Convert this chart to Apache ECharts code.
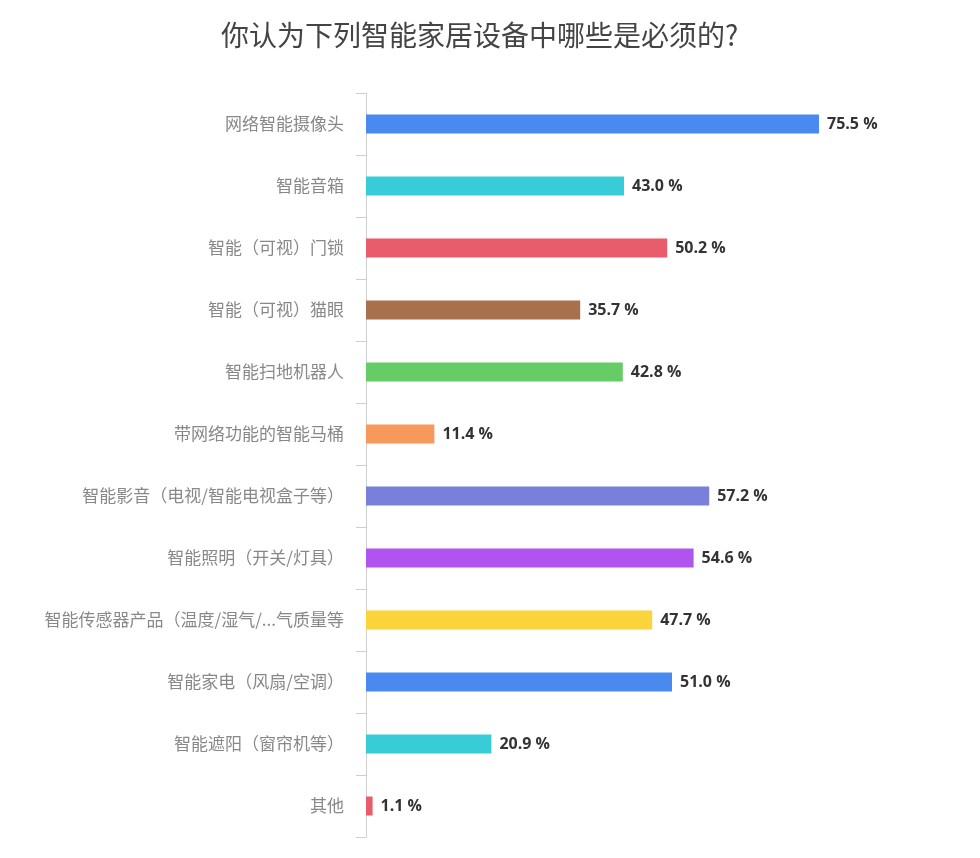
<!DOCTYPE html>
<html>
<head>
<meta charset="utf-8">
<title>智能家居设备</title>
<script src="https://cdn.jsdelivr.net/npm/echarts@6/dist/echarts.min.js"></script>
<style>
  html, body { margin: 0; padding: 0; background: #fff; }
  #main { width: 980px; height: 858px; }
</style>
</head>
<body>
<div id="main"></div>
<script>
// 数据
var categories = ['网络智能摄像头', '智能音箱', '智能（可视）门锁', '智能（可视）猫眼', '智能扫地机器人',
  '带网络功能的智能马桶', '智能影音（电视/智能电视盒子等）', '智能照明（开关/灯具）',
  '智能传感器产品（温度/湿气/...气质量等', '智能家电（风扇/空调）', '智能遮阳（窗帘机等）', '其他'];
var values = [75.5, 43.0, 50.2, 35.7, 42.8, 11.4, 57.2, 54.6, 47.7, 51.0, 20.9, 1.1];
var barColors = ['#4a8af0', '#38cbd8', '#e95c6c', '#a8704c', '#66cc66', '#f7995a',
  '#7880dc', '#b054f0', '#fad43a', '#4a8af0', '#38cbd8', '#e95c6c'];

var myChart = echarts.init(document.getElementById('main'));
var option = {
  backgroundColor: '#fff',
  title: {
    text: '你认为下列智能家居设备中哪些是必须的?',
    left: 216,
    top: 16,
    textStyle: { fontSize: 28, fontWeight: 'normal', color: '#444', fontFamily: 'Noto Sans CJK SC' }
  },
  grid: { left: 366, right: 14, top: 93, bottom: 21 },
  xAxis: {
    type: 'value',
    min: 0,
    max: 100,
    show: false
  },
  yAxis: {
    type: 'category',
    inverse: true,
    data: categories,
    axisLine: { show: true, lineStyle: { color: '#cfcfcf' } },
    axisTick: { show: true, length: 10, lineStyle: { color: '#cfcfcf' } },
    axisLabel: { color: '#888', fontSize: 17, margin: 22, fontFamily: 'Noto Sans CJK SC' }
  },
  series: [{
    type: 'bar',
    barWidth: 19,
    data: values.map(function (v, i) {
      return { value: v, itemStyle: { color: barColors[i] } };
    }),
    label: {
      show: true,
      position: 'right',
      distance: 8,
      color: '#333',
      fontSize: 16,
      fontWeight: 'bold',
      fontFamily: 'Open Sans',
      formatter: function (p) { return p.value.toFixed(1) + ' %'; }
    }
  }]
};
myChart.setOption(option);
</script>
</body>
</html>
